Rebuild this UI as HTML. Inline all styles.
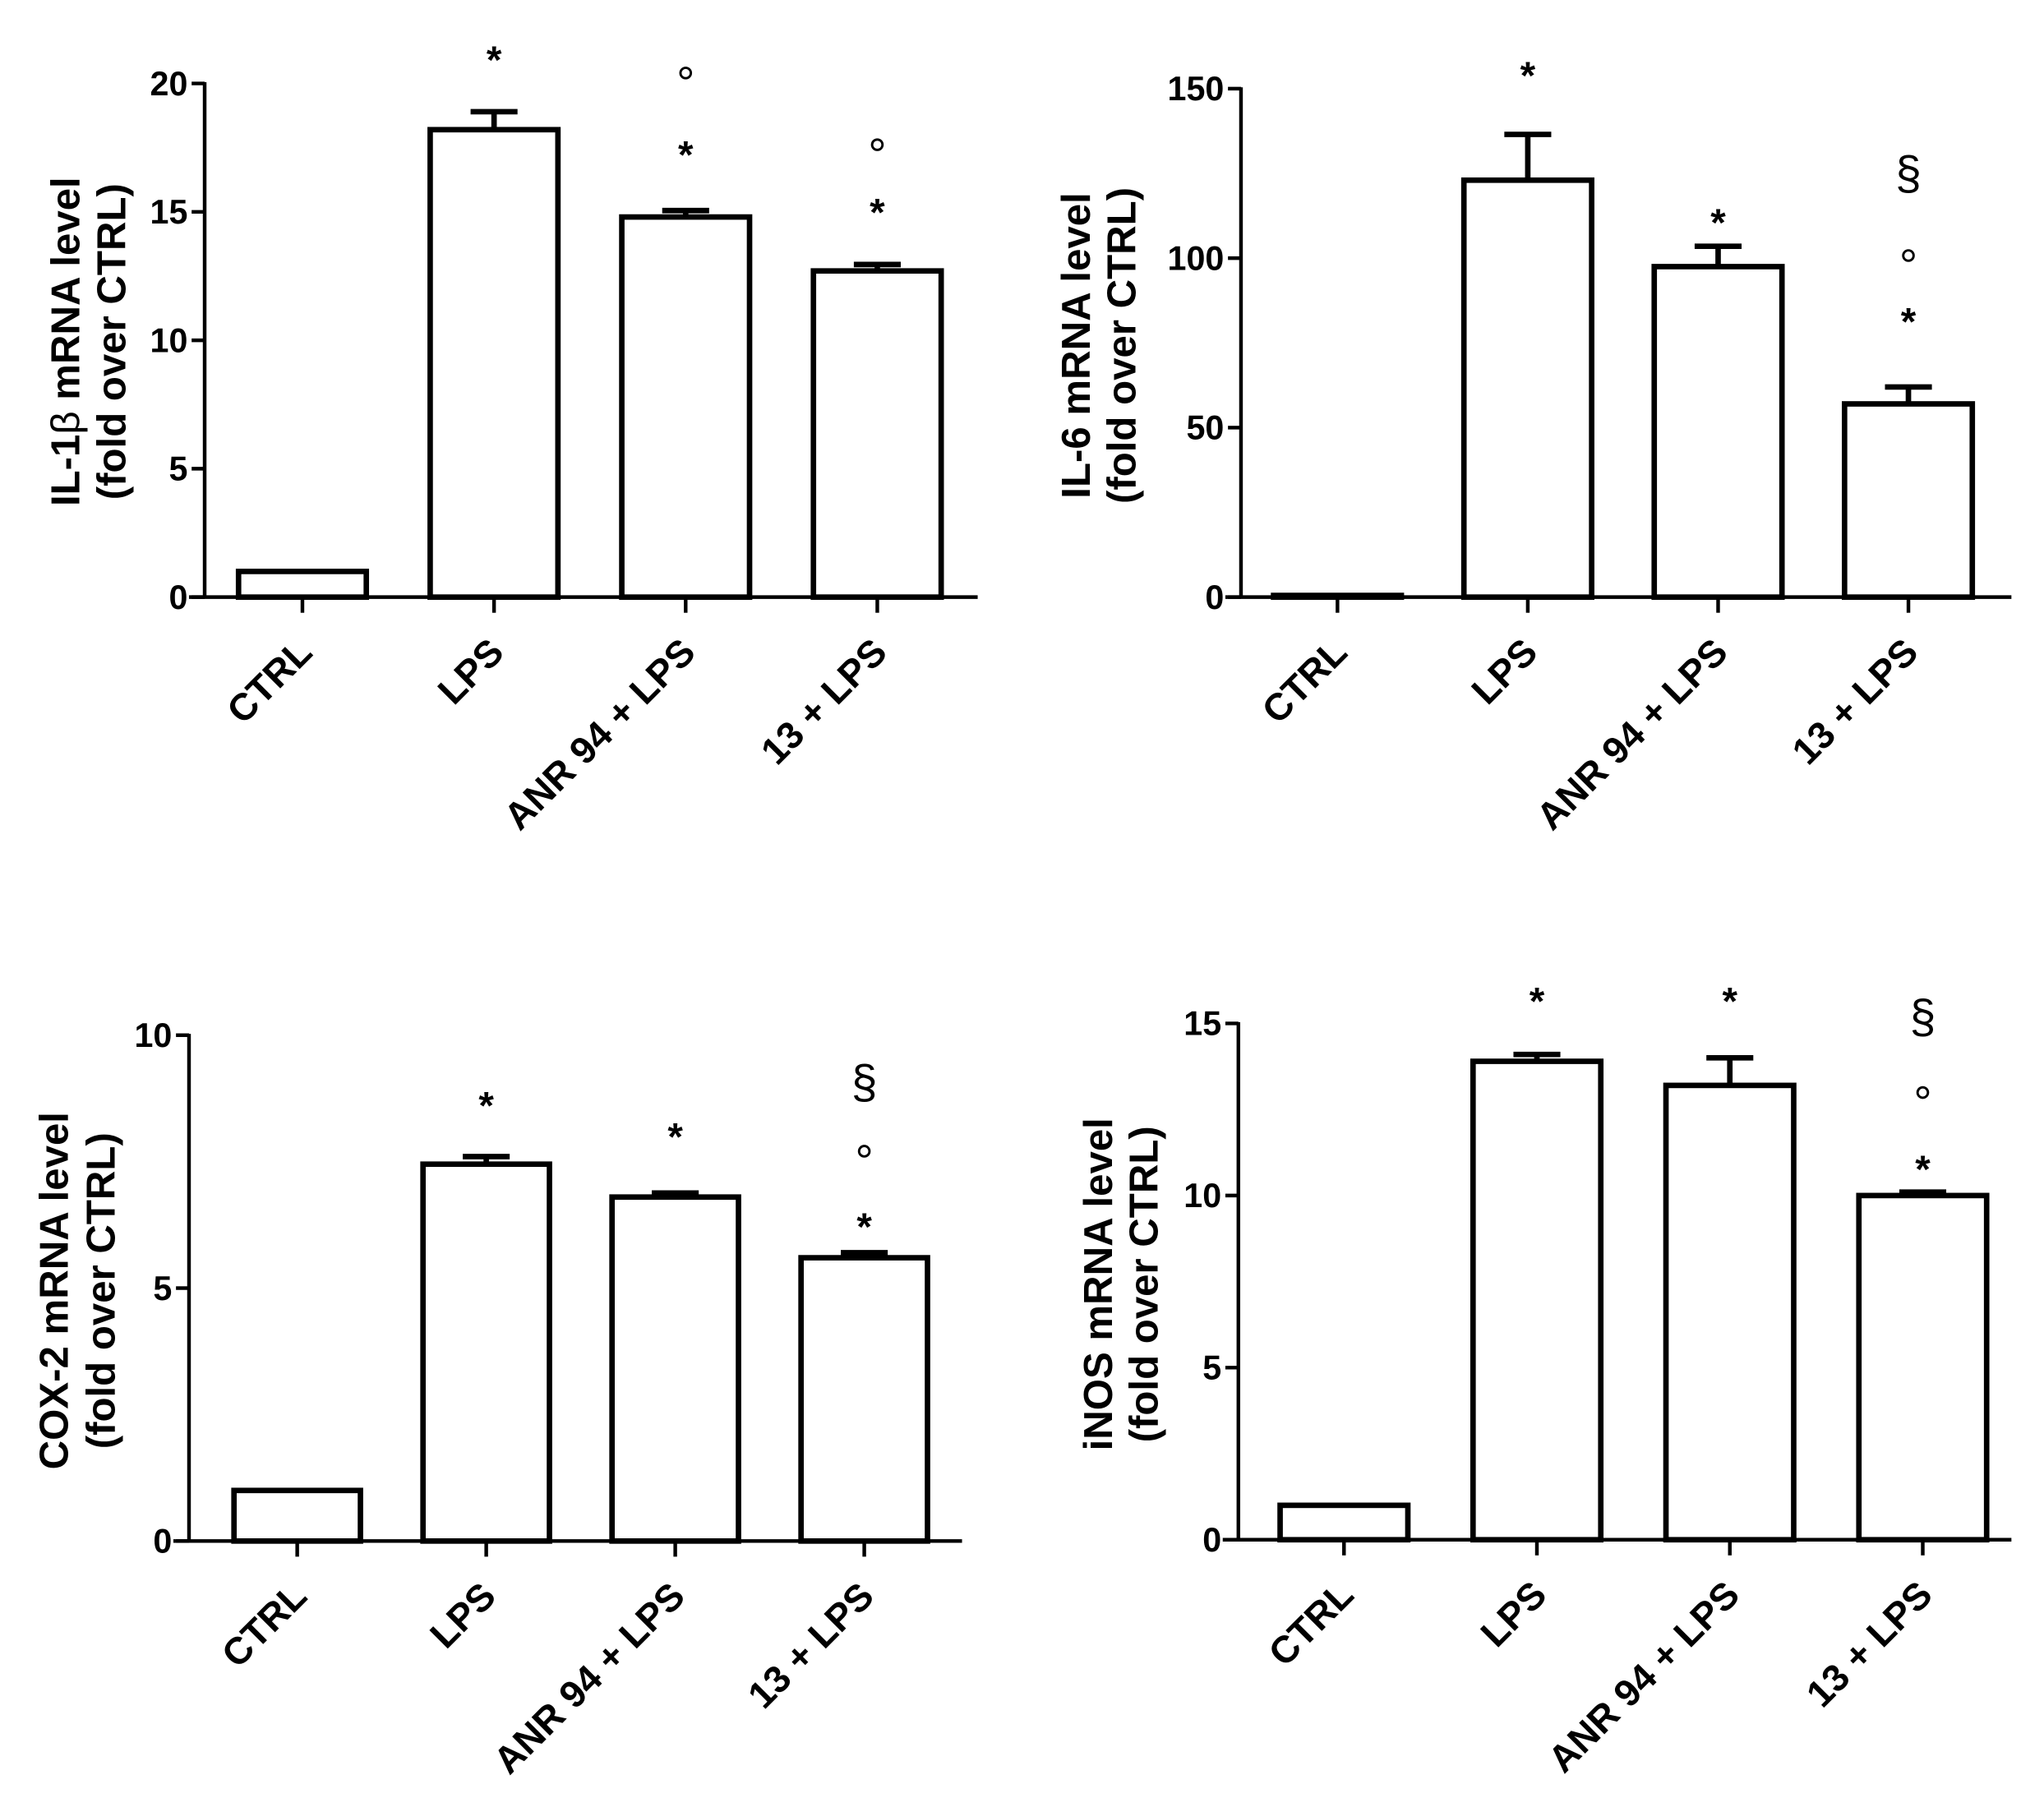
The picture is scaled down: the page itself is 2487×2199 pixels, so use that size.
<!DOCTYPE html>
<html><head><meta charset="utf-8"><style>
html,body{margin:0;padding:0;background:#fff;}
svg{display:block;}
text{font-family:"Liberation Sans",Arial,sans-serif;fill:#000;}
</style></head><body>
<svg id="fig" width="2487" height="2199" viewBox="0 0 1568 1386" preserveAspectRatio="none" xmlns="http://www.w3.org/2000/svg"></svg>
<script>
const categories = ["CTRL", "LPS", "ANR 94 + LPS", "13 + LPS"];
const il1bValues = [1.0, 18.2, 14.8, 12.7];
const il1bErrors = [1.0, 18.9, 15.05, 12.95];
const il6Values = [0.5, 123, 97.5, 57];
const il6Errors = [0.5, 136.5, 103.5, 62];
const cox2Values = [1.0, 7.45, 6.8, 5.6];
const cox2Errors = [1.0, 7.6, 6.88, 5.7];
const inosValues = [1.0, 13.9, 13.2, 10.0];
const inosErrors = [1.0, 14.1, 14.0, 10.1];
const il1bTicks = [0, 5, 10, 15, 20];
const il6Ticks = [0, 50, 100, 150];
const cox2Ticks = [0, 5, 10];
const inosTicks = [0, 5, 10, 15];
const il1bMarks = [[], ["*"], ["*", "o"], ["*", "o"]];
const il6Marks = [[], ["*"], ["*"], ["*", "o", "§"]];
const cox2Marks = [[], ["*"], ["*"], ["*", "o", "§"]];
const inosMarks = [[], ["*"], ["*"], ["*", "o", "§"]];

const NS = "http://www.w3.org/2000/svg";
const svg = document.getElementById("fig");
function mk(tag, attrs, parent) {
  const e = document.createElementNS(NS, tag);
  for (const k in attrs) e.setAttribute(k, attrs[k]);
  parent.appendChild(e);
  return e;
}

const panels = [
  {name:"il1b", vals:il1bValues, errs:il1bErrors, ticks:il1bTicks, marks:il1bMarks, max:20,
   ax:157, y0:458, yTop:64, xEnd:750, c0:232, step:147, bw:98,
   l1:["IL-1", "β", " mRNA level"], l2:"(fold over CTRL)", lx1:61, lx2:96, ly:262,
   markY:[[],[40],[113,56],[157,111]]},
  {name:"il6", vals:il6Values, errs:il6Errors, ticks:il6Ticks, marks:il6Marks, max:150,
   ax:952, y0:458, yTop:68, xEnd:1543, c0:1026, step:146, bw:98,
   l1:["IL-6 mRNA level"], l2:"(fold over CTRL)", lx1:836, lx2:871, ly:265,
   markY:[[],[52],[165],[241,196,133]]},
  {name:"cox2", vals:cox2Values, errs:cox2Errors, ticks:cox2Ticks, marks:cox2Marks, max:10,
   ax:145, y0:1182, yTop:794, xEnd:738, c0:228, step:145, bw:97,
   l1:["COX-2 mRNA level"], l2:"(fold over CTRL)", lx1:52, lx2:88, ly:990,
   markY:[[],[842],[866],[935,883,830]]},
  {name:"inos", vals:inosValues, errs:inosErrors, ticks:inosTicks, marks:inosMarks, max:15,
   ax:950, y0:1181, yTop:785, xEnd:1543, c0:1031, step:148, bw:98,
   l1:["iNOS mRNA level"], l2:"(fold over CTRL)", lx1:853, lx2:888, ly:985,
   markY:[[],[762],[762],[891,838,780]]}
];

panels.forEach(p => {
  const g = mk("g", {}, svg);
  
  
  const yS = v => p.y0 - (v / p.max) * (p.y0 - p.yTop);
  const xS = i => p.c0 + i * p.step;
  p.vals.forEach((v, i) => {
    const cx = xS(i), yt = yS(v), ye = yS(p.errs[i]);
    if (p.errs[i] > v + 0.001 * p.max) {
      const eb = mk("path", {d:`M${cx},${yt} V${ye} M${cx-18},${ye} H${cx+18}`, stroke:"#000", "stroke-width":4.2, fill:"none"}, g);
      
      
    }
    const r = mk("rect", {x:cx - p.bw/2, y:yt, width:p.bw, height:Math.max(p.y0 - yt, 0.5), fill:"#fff", stroke:"#000", "stroke-width":4.2}, g);
    
    
  });
  const ya = mk("line", {x1:p.ax, y1:p.yTop - 1, x2:p.ax, y2:p.y0, stroke:"#000", "stroke-width":2.8}, g);
  
  
  const xa = mk("line", {x1:p.ax - 12, y1:p.y0, x2:p.xEnd, y2:p.y0, stroke:"#000", "stroke-width":2.8}, g);
  
  
  p.ticks.forEach(t => {
    const y = yS(t);
    mk("line", {x1:p.ax - 10, y1:y, x2:p.ax, y2:y, stroke:"#000", "stroke-width":2.8}, g);
    const tl = mk("text", {x:p.ax - 13, y:y + 9, "text-anchor":"end", "font-size":26, "font-weight":"bold"}, g);
    tl.textContent = t;
    
    
  });
  categories.forEach((c, i) => {
    const cx = xS(i);
    mk("line", {x1:cx, y1:p.y0, x2:cx, y2:p.y0 + 12, stroke:"#000", "stroke-width":2.8}, g);
    const bx = cx + 9, by = p.y0 + 44;
    const xl = mk("text", {x:bx, y:by, "text-anchor":"end", "font-size":29, "font-weight":"bold", transform:`rotate(-45 ${bx} ${by})`}, g);
    xl.textContent = c;
    
    
    p.marks[i].forEach((m, k) => {
      const my = p.markY[i][k];
      if (m === "o") {
        const ci = mk("circle", {cx:cx, cy:my, r:4, fill:"none", stroke:"#000", "stroke-width":1.8}, g);
        
        
      } else if (m === "§") {
        const s = mk("text", {x:cx, y:my + 12, "text-anchor":"middle", "font-size":36}, g);
        s.textContent = "§";
        
        
      } else {
        const s = mk("text", {x:cx, y:my + 16, "text-anchor":"middle", "font-size":30, "font-weight":"bold"}, g);
        s.textContent = "*";
        
        
      }
    });
  });
  const t1 = mk("text", {x:p.lx1, y:p.ly, "text-anchor":"middle", "font-size":31, "font-weight":"bold", transform:`rotate(-90 ${p.lx1} ${p.ly})`}, g);
  
  
  p.l1.forEach(part => {
    const ts = mk("tspan", part === "β" ? {"font-weight":"normal"} : {}, t1);
    ts.textContent = part;
  });
  const t2 = mk("text", {x:p.lx2, y:p.ly, "text-anchor":"middle", "font-size":31, "font-weight":"bold", transform:`rotate(-90 ${p.lx2} ${p.ly})`}, g);
  t2.textContent = p.l2;
  
  
});
</script>
</body></html>
